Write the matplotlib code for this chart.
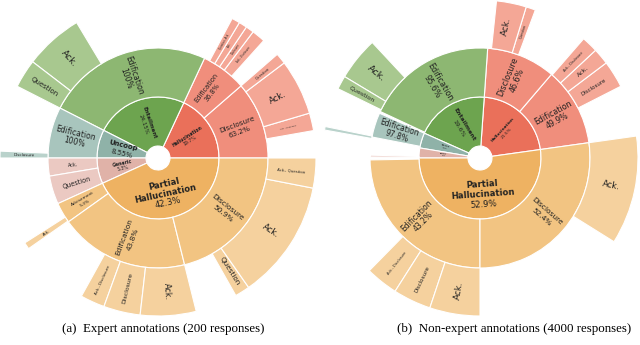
import numpy as np
import matplotlib.pyplot as plt

# (a) Experten-Annotationen: Winkel (Grad) je Segment, None = Luecke
a_start = 0
a_r1_deg = [65, 88, 27, 24.5, 155.5]
a_r1_grp = ['hal', 'ent', 'unc', 'gen', 'ph']
a_r1_lab = ['Hallucination', 'Entailment', 'Uncoop', 'Generic', 'Partial\nHallucination']
a_r1_pct = ['19.7%', '24.15%', '8.55%', '5.3%', '42.3%']

a_r2_deg = [41, 24, 88, 27, 9.5, 15, 11, 68.5, 76]
a_r2_grp = ['hal', 'hal', 'ent', 'unc', 'gen', 'gen', 'ph', 'ph', 'ph']
a_r2_lab = ['Disclosure', 'Edification', 'Edification', 'Edification', 'Ack.', 'Question',
            'Advisement', 'Edification', 'Disclosure']
a_r2_pct = ['63.2%', '36.8%', '100%', '100%', '', '', '5.3%', '43.8%', '50.9%']

a_r3_deg = [10, 6.5, 20.5, 4, 7, 5, 3, 3, 3, 59, 21.5, 10.5, 24.5, 2.5, 32.5, 2.5, 26,
            9, 13.5, 20.5, 15.5, 5.5, 44, 11]
a_r3_grp = [None, 'hal', 'hal', 'hal', None, 'hal', 'hal', 'hal', 'hal', None, 'ent', 'ent',
            None, 'unc', None, 'ph', None, 'ph', 'ph', 'ph', None, 'ph', 'ph', 'ph']
a_r3_lab = ['', 'Ack., Question', 'Ack.', 'Question', '', 'Ack., Disclosure', 'Disclosure', 'Ack.',
            'Question, Ack.', '', 'Ack.', 'Question', '', 'Disclosure', '', 'Ack.', '',
            'Ack., Disclosure', 'Disclosure', 'Ack.', '', 'Question', 'Ack.', 'Ack., Question']

# (b) Nicht-Experten
b_start = 8
b_r1_deg = [78, 70, 14.5, 9.5, 188]
b_r1_grp = ['hal', 'ent', 'unc', 'gen', 'ph']
b_r1_lab = ['Hallucination', 'Entailment', 'Uncoop', 'Generic', 'Partial\nHallucination']
b_r1_pct = ['21.5%', '19.6%', '4.0%', '2.6%', '52.9%']

b_r2_deg = [41.5, 36.5, 69, 1, 13, 1.5, 8, 1, 1.5, 89, 98]
b_r2_grp = ['hal', 'hal', 'ent', None, 'unc', None, None, 'gen', None, 'ph', 'ph']
b_r2_lab = ['Edification', 'Disclosure', 'Edification', '', 'Edification', '', '', '', '',
            'Edification', 'Disclosure']
b_r2_pct = ['49.9%', '46.6%', '95.6%', '', '97.8%', '', '', '', '', '43.2%', '52.4%']

b_r3_deg = [19, 10, 6, 6, 20.5, 3.5, 11, 49, 16, 5, 14.5, 1.3, 55.7, 12, 14, 18.5, 58, 40]
b_r3_grp = [None, 'hal', 'hal', 'hal', None, 'hal', 'hal', None, 'ent', 'ent', None, 'unc',
            None, 'ph', 'ph', 'ph', None, 'ph']
b_r3_lab = ['', 'Disclosure', 'Ack.', 'Ack., Disclosure', '', 'Question', 'Ack.', '', 'Ack.',
            'Question', '', '', '', 'Ack., Disclosure', 'Disclosure', 'Ack.', '', 'Ack.']

captions = ['(a)  Expert annotations (200 responses)',
            '(b)  Non-expert annotations (4000 responses)']

# Schriftgroessen (pt) je Segment
a_r1_fs = [3.3, 4, 5, 3.3, 6]
a_r2_fs = [5.2, 4.8, 5.5, 5.5, 3.5, 4.7, 3.2, 5.3, 5.4]
a_r3_fs = [0, 1.7, 6, 2.7, 0, 1.8, 1.8, 1.8, 1.8, 0, 6.5, 5, 0, 3, 0, 2.7, 0,
           2.9, 4.4, 5.8, 0, 5.2, 6, 2.8]
b_r1_fs = [3.1, 4.4, 1.5, 1.2, 6.1]
b_r2_fs = [5.7, 5.8, 5.8, 0, 5.5, 0, 0, 0, 0, 5.5, 5.4]
b_r3_fs = [0, 4, 4.5, 2.4, 0, 2.4, 6.3, 0, 6.8, 4.5, 0, 0, 0, 2.5, 4.1, 6.3, 0, 6]

COL = {'ent': ['#6da44f', '#8db772', '#a8c88f'],
       'hal': ['#ea705a', '#f08e7c', '#f4a796'],
       'ph':  ['#eeb262', '#f2c482', '#f5d19e'],
       'unc': ['#8fb2a8', '#a8c5bd', '#b9d2cb'],
       'gen': ['#e0b2a8', '#ebc9c2', '#f0d5cf']}

RADII = [12, 61, 110, 158]   # Pixel


def draw_ring(ax, cx, cy, start, level, deg, grp, lab, pct, fs):
    r_in, r_out = RADII[level], RADII[level + 1]
    cols = [COL[g][level] if g else 'none' for g in grp]
    wedges, _ = ax.pie(deg, radius=r_out, center=(cx, cy), startangle=start,
                       counterclock=True, colors=cols, frame=True,
                       wedgeprops=dict(width=r_out - r_in, edgecolor='white', linewidth=0.8))
    for w, g in zip(wedges, grp):
        if g is None:
            w.set_visible(False)
    edges = start + np.concatenate([[0], np.cumsum(deg)])
    rm = (r_in + r_out) / 2
    for i, name in enumerate(lab):
        if not name or fs[i] <= 0:
            continue
        mid = (edges[i] + edges[i + 1]) / 2
        tang = name.startswith('Partial')
        rot = ((mid + (90 if tang else 0)) + 90) % 180 - 90
        lines = [(t, level == 0) for t in name.split('\n')]
        if pct[i]:
            lines.append((pct[i], False))
        x0 = cx + rm * np.cos(np.radians(mid))
        y0 = cy + rm * np.sin(np.radians(mid))
        lh = fs[i] * 100 / 72 * 1.15
        ux, uy = -np.sin(np.radians(rot)), np.cos(np.radians(rot))
        n = len(lines)
        for k, (t, b) in enumerate(lines):
            off = ((n - 1) / 2 - k) * lh
            ax.text(x0 + ux * off, y0 + uy * off, t, rotation=rot, fontsize=fs[i],
                    fontweight='bold' if b else 'normal', color='#222222',
                    ha='center', va='center', rotation_mode='anchor')


fig = plt.figure(figsize=(6.4, 3.45), dpi=100)
ax = fig.add_axes([0, 0, 1, 1])

cxa, cya = 158, 187
draw_ring(ax, cxa, cya, a_start, 0, a_r1_deg, a_r1_grp, a_r1_lab, a_r1_pct, a_r1_fs)
draw_ring(ax, cxa, cya, a_start, 1, a_r2_deg, a_r2_grp, a_r2_lab, a_r2_pct, a_r2_fs)
draw_ring(ax, cxa, cya, a_start, 2, a_r3_deg, a_r3_grp, a_r3_lab, [''] * len(a_r3_lab), a_r3_fs)

cxb, cyb = 480, 187
draw_ring(ax, cxb, cyb, b_start, 0, b_r1_deg, b_r1_grp, b_r1_lab, b_r1_pct, b_r1_fs)
draw_ring(ax, cxb, cyb, b_start, 1, b_r2_deg, b_r2_grp, b_r2_lab, b_r2_pct, b_r2_fs)
draw_ring(ax, cxb, cyb, b_start, 2, b_r3_deg, b_r3_grp, b_r3_lab, [''] * len(b_r3_lab), b_r3_fs)

ax.text(163, 16, captions[0], family='Liberation Serif', fontsize=9.3, ha='center', va='center')
ax.text(514, 16, captions[1], family='Liberation Serif', fontsize=9.3, ha='center', va='center')

ax.set_xlim(0, 640)
ax.set_ylim(0, 345)
ax.set_aspect('equal', adjustable='box')
ax.axis('off')
fig.savefig('out.png', dpi=100)
